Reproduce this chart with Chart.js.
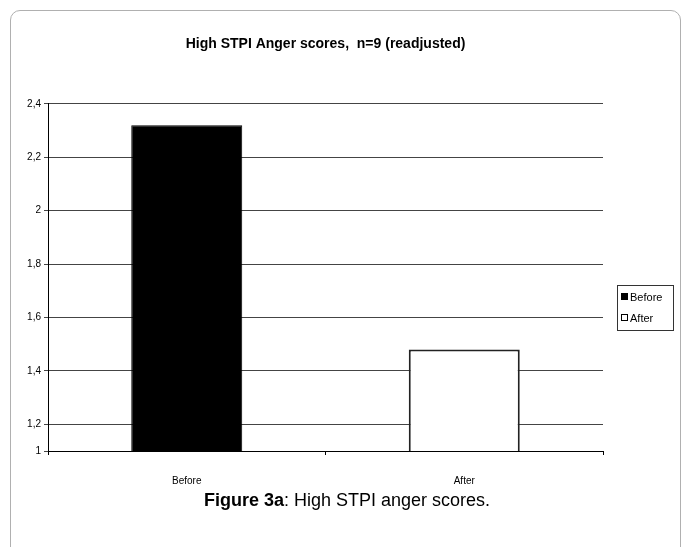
<!DOCTYPE html>
<html>
<head>
<meta charset="utf-8">
<script src="https://cdn.jsdelivr.net/npm/chart.js@4/dist/chart.umd.min.js"></script>
<style>
  html, body { margin: 0; padding: 0; background: #fff; overflow: hidden; }
  #wrap { position: relative; width: 683px; height: 547px; }
  #frame { position: absolute; left: 10px; top: 10px; width: 671px; height: 560px;
           border: 1px solid #b0b0b0; border-radius: 10px; box-sizing: border-box; }
  #c { position: absolute; left: 0; top: 0; }
  #caption { position: absolute; left: 0; width: 694px; top: 489px; text-align: center;
             font-family: "Liberation Sans", Arial, sans-serif; font-size: 18px; line-height: 22px; color: #000; }
</style>
</head>
<body>
<div id="wrap">
  <div id="frame"></div>
  <canvas id="c" width="683" height="547"></canvas>
  <div id="caption"><b>Figure 3a</b>: High STPI anger scores.</div>
</div>
<script>
const categories = ['Before', 'After'];
const scores = [2.32, 1.48];
const barFills = ['#000000', '#ffffff'];
const yTickValues = [1.1, 1.2, 1.4, 1.6, 1.8, 2.0, 2.2, 2.4];
const yTickLabels = ['1', '1,2', '1,4', '1,6', '1,8', '2', '2,2', '2,4'];
const titleText = 'High STPI Anger scores,  n=9 (readjusted)';

const FONT = '"Liberation Sans", Arial, sans-serif';

const boxLegend = {
  id: 'boxLegend',
  afterDraw(chart) {
    const ctx = chart.ctx;
    const left = 617, top = 285, w = 56, h = 45;
    ctx.save();
    ctx.strokeStyle = '#333';
    ctx.lineWidth = 1;
    ctx.strokeRect(left + 0.5, top + 0.5, w, h);
    ctx.font = '11px ' + FONT;
    ctx.textBaseline = 'middle';
    chart.data.labels.forEach((lab, i) => {
      const y = top + 12 + i * 21;
      ctx.fillStyle = chart.data.datasets[0].backgroundColor[i];
      ctx.fillRect(left + 4, y - 4, 7, 7);
      ctx.strokeStyle = '#000';
      ctx.strokeRect(left + 4.5, y - 3.5, 6, 6);
      ctx.fillStyle = '#000';
      ctx.fillText(lab, left + 13, y + 0.5);
    });
    ctx.restore();
  }
};

new Chart(document.getElementById('c'), {
  type: 'bar',
  data: {
    labels: categories,
    datasets: [{
      label: 'scores',
      data: scores,
      backgroundColor: barFills,
      borderColor: ['#000', '#222'],
      borderWidth: [1, 2],
      borderSkipped: false,
      categoryPercentage: 1.0,
      barPercentage: 0.4
    }]
  },
  options: {
    responsive: false,
    animation: false,
    layout: { padding: { left: 0, right: 80, top: 30, bottom: 0 } },
    plugins: {
      legend: { display: false },
      tooltip: { enabled: false },
      title: {
        display: true,
        text: titleText,
        fullSize: false,
        color: '#000',
        font: { family: FONT, size: 14, weight: 'bold' },
        padding: { top: 6, bottom: 51 }
      }
    },
    scales: {
      x: {
        offset: true,
        grid: { display: true, drawOnChartArea: false, offset: true, tickLength: 4, color: '#000' },
        border: { display: true, color: '#000', width: 1 },
        ticks: { color: '#000', font: { family: FONT, size: 10 }, padding: 20 },
        afterFit(scale) { scale.height = 96; }
      },
      y: {
        min: 1.1,
        max: 2.4,
        afterBuildTicks(scale) { scale.ticks = yTickValues.map(v => ({ value: v })); },
        grid: { color: '#444', tickLength: 4, lineWidth: 1 },
        border: { display: true, color: '#000', width: 1 },
        ticks: {
          color: '#000',
          font: { family: FONT, size: 10 },
          padding: 3,
          callback(value) {
            const i = yTickValues.findIndex(v => Math.abs(v - value) < 1e-6);
            return i >= 0 ? yTickLabels[i] : '';
          }
        },
        afterFit(scale) { scale.width = 48; }
      }
    }
  },
  plugins: [boxLegend]
});
</script>
</body>
</html>
